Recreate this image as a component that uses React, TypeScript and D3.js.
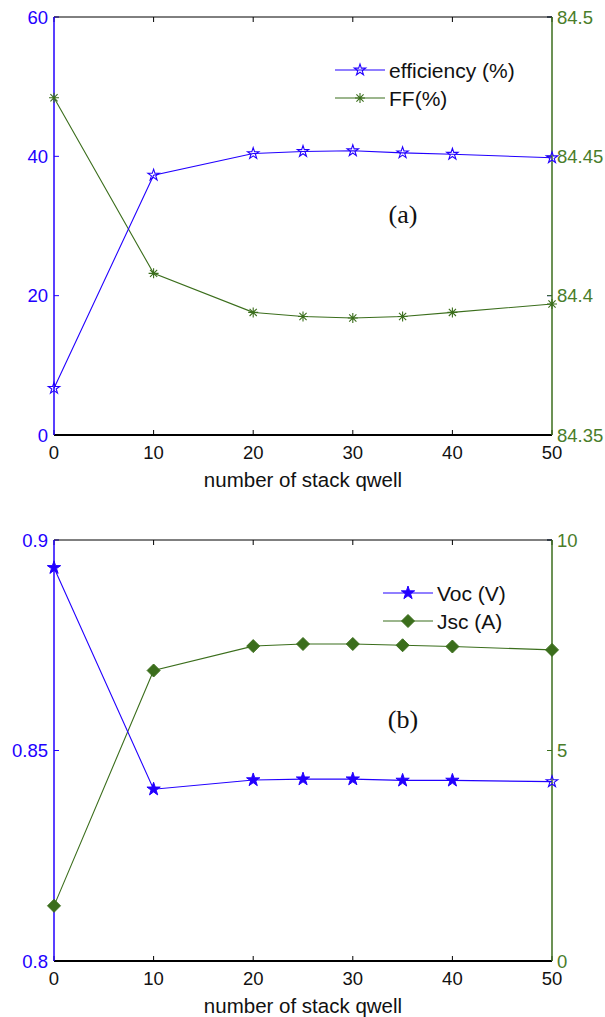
import React from "react";
import * as d3 from "d3";

// number of stacked quantum wells
const stackCounts = [0, 10, 20, 25, 30, 35, 40, 50];
const xTicks = [0, 10, 20, 30, 40, 50];

// panel (a)
const efficiency = [6.7, 37.3, 40.4, 40.7, 40.8, 40.5, 40.3, 39.8];
const fillFactor = [84.471, 84.408, 84.394, 84.3925, 84.392, 84.3925, 84.394, 84.397];
const effTicks = [0, 20, 40, 60];
const ffTicks = [84.35, 84.4, 84.45, 84.5];
const ffTickLabels = ["84.35", "84.4", "84.45", "84.5"];

// panel (b)
const voc = [0.8934, 0.8408, 0.843, 0.8432, 0.8432, 0.8429, 0.8429, 0.8426];
const jsc = [1.31, 6.9, 7.48, 7.53, 7.53, 7.5, 7.47, 7.39];
const vocTicks = [0.8, 0.85, 0.9];
const vocTickLabels = ["0.8", "0.85", "0.9"];
const jscTicks = [0, 5, 10];

const BLUE = "#2200ff";
const GREEN = "#3b6e1c";
const GREEN_TXT = "#4a7d2a";
const FONT = "'Liberation Sans', Arial, sans-serif";

const star = d3.symbol().type(d3.symbolStar).size(40)() as string;
const bigStar = d3.symbol().type(d3.symbolStar).size(55)() as string;

function asterisk(r: number) {
  const d = r * 0.72;
  return `M${-r},0L${r},0M0,${-r}L0,${r}M${-d},${-d}L${d},${d}M${-d},${d}L${d},${-d}`;
}
function diamond(r: number) {
  return `M0,${-r}L${r},0L0,${r}L${-r},0Z`;
}

type Marker = (i: number) => { d: string; fill: string; stroke: string; sw: number };

type PanelProps = {
  top: number;
  bottom: number;
  leftDomain: [number, number];
  rightDomain: [number, number];
  leftTicks: number[];
  leftLabels: string[];
  rightTicks: number[];
  rightLabels: string[];
  leftVals: number[];
  rightVals: number[];
  leftMarker: Marker;
  rightMarker: Marker;
  legend: [string, string];
  legendX: number;
  legendY: number;
  tag: string;
  tagY: number;
};

const LEFT = 54;
const RIGHT = 552;

function Panel(p: PanelProps) {
  const x = d3.scaleLinear().domain([0, 50]).range([LEFT, RIGHT]);
  const yl = d3.scaleLinear().domain(p.leftDomain).range([p.bottom, p.top]);
  const yr = d3.scaleLinear().domain(p.rightDomain).range([p.bottom, p.top]);
  const lineL = d3
    .line<number>()
    .x((_, i) => x(stackCounts[i]))
    .y((d) => yl(d));
  const lineR = d3
    .line<number>()
    .x((_, i) => x(stackCounts[i]))
    .y((d) => yr(d));
  const tk = 5;
  const lgY = [p.legendY, p.legendY + 28];
  const lm = p.leftMarker(1);
  const rm = p.rightMarker(1);
  return (
    <g>
      {/* x ticks top & bottom */}
      {xTicks.map((t) => (
        <g key={"x" + t}>
          <line x1={x(t)} x2={x(t)} y1={p.top} y2={p.top + tk} stroke="#000" />
          <line x1={x(t)} x2={x(t)} y1={p.bottom} y2={p.bottom - tk} stroke="#000" />
          <text x={x(t)} y={p.bottom + 24} textAnchor="middle" fontSize={18.5} fontFamily={FONT} fill="#111">
            {t}
          </text>
        </g>
      ))}
      {/* left ticks */}
      {p.leftTicks.map((t, i) => (
        <g key={"l" + t}>
          <line x1={LEFT} x2={LEFT + tk} y1={yl(t)} y2={yl(t)} stroke={BLUE} />
          <line x1={RIGHT} x2={RIGHT - tk} y1={yl(t)} y2={yl(t)} stroke={BLUE} />
          <text x={LEFT - 6} y={yl(t) + 6.5} textAnchor="end" fontSize={18.5} fontFamily={FONT} fill={BLUE}>
            {p.leftLabels[i]}
          </text>
        </g>
      ))}
      {/* right ticks */}
      {p.rightTicks.map((t, i) => (
        <g key={"r" + t}>
          <line x1={RIGHT} x2={RIGHT - tk} y1={yr(t)} y2={yr(t)} stroke={GREEN} />
          <text x={RIGHT + 5} y={yr(t) + 6.5} textAnchor="start" fontSize={18.5} fontFamily={FONT} fill={GREEN_TXT}>
            {p.rightLabels[i]}
          </text>
        </g>
      ))}
      {/* axes frame */}
      <line x1={LEFT} x2={RIGHT} y1={p.top} y2={p.top} stroke="#000" strokeWidth={1} />
      <line x1={LEFT} x2={RIGHT} y1={p.bottom} y2={p.bottom} stroke="#000" strokeWidth={2} />
      <line x1={LEFT} x2={LEFT} y1={p.top} y2={p.bottom} stroke={BLUE} strokeWidth={1.5} />
      <line x1={RIGHT} x2={RIGHT} y1={p.top} y2={p.bottom} stroke={GREEN} strokeWidth={1.5} />

      {/* series */}
      <path d={lineR(p.rightVals) || ""} fill="none" stroke={GREEN} strokeWidth={1.1} />
      {p.rightVals.map((v, i) => {
        const m = p.rightMarker(i);
        return (
          <path key={"rm" + i} transform={`translate(${x(stackCounts[i])},${yr(v)})`} d={m.d} fill={m.fill} stroke={m.stroke} strokeWidth={m.sw} />
        );
      })}
      <path d={lineL(p.leftVals) || ""} fill="none" stroke={BLUE} strokeWidth={1.1} />
      {p.leftVals.map((v, i) => {
        const m = p.leftMarker(i);
        return (
          <path key={"lm" + i} transform={`translate(${x(stackCounts[i])},${yl(v)})`} d={m.d} fill={m.fill} stroke={m.stroke} strokeWidth={m.sw} />
        );
      })}

      {/* legend */}
      <line x1={p.legendX} x2={p.legendX + 50} y1={lgY[0]} y2={lgY[0]} stroke={BLUE} strokeWidth={1.1} />
      <path transform={`translate(${p.legendX + 25},${lgY[0]})`} d={lm.d} fill={lm.fill} stroke={lm.stroke} strokeWidth={lm.sw} />
      <text x={p.legendX + 54} y={lgY[0] + 7.5} fontSize={21} fontFamily={FONT} fill="#111">
        {p.legend[0]}
      </text>
      <line x1={p.legendX} x2={p.legendX + 50} y1={lgY[1]} y2={lgY[1]} stroke={GREEN} strokeWidth={1.1} />
      <path transform={`translate(${p.legendX + 25},${lgY[1]})`} d={rm.d} fill={rm.fill} stroke={rm.stroke} strokeWidth={rm.sw} />
      <text x={p.legendX + 54} y={lgY[1] + 7.5} fontSize={21} fontFamily={FONT} fill="#111">
        {p.legend[1]}
      </text>

      <text x={403} y={p.tagY} textAnchor="middle" fontSize={26} fontFamily="'Liberation Serif', 'Times New Roman', serif" fill="#111">
        {p.tag}
      </text>
      <text x={(LEFT + RIGHT) / 2} y={p.bottom + 52} textAnchor="middle" fontSize={20.5} fontFamily={FONT} fill="#111">
        number of stack qwell
      </text>
    </g>
  );
}

export default function App() {
  return (
    <svg width={605} height={1017} style={{ position: "absolute", left: 0, top: 0, background: "#fff" }}>
      <Panel
        top={17}
        bottom={435}
        leftDomain={[0, 60]}
        rightDomain={[84.35, 84.5]}
        leftTicks={effTicks}
        leftLabels={effTicks.map(String)}
        rightTicks={ffTicks}
        rightLabels={ffTickLabels}
        leftVals={efficiency}
        rightVals={fillFactor}
        leftMarker={() => ({ d: star, fill: "none", stroke: BLUE, sw: 1.1 })}
        rightMarker={() => ({ d: asterisk(5), fill: "none", stroke: GREEN, sw: 1.1 })}
        legend={["efficiency (%)", "FF(%)"]}
        legendX={335}
        legendY={70}
        tagY={223}
        tag="(a)"
      />
      <Panel
        top={540}
        bottom={961}
        leftDomain={[0.8, 0.9]}
        rightDomain={[0, 10]}
        leftTicks={vocTicks}
        leftLabels={vocTickLabels}
        rightTicks={jscTicks}
        rightLabels={jscTicks.map(String)}
        leftVals={voc}
        rightVals={jsc}
        leftMarker={(i) =>
          i === stackCounts.length - 1
            ? { d: star, fill: "none", stroke: BLUE, sw: 1.1 }
            : { d: bigStar, fill: BLUE, stroke: BLUE, sw: 1 }
        }
        rightMarker={() => ({ d: diamond(6.5), fill: GREEN, stroke: GREEN, sw: 1 })}
        legend={["Voc (V)", "Jsc (A)"]}
        legendX={383}
        legendY={593}
        tagY={728}
        tag="(b)"
      />
    </svg>
  );
}
